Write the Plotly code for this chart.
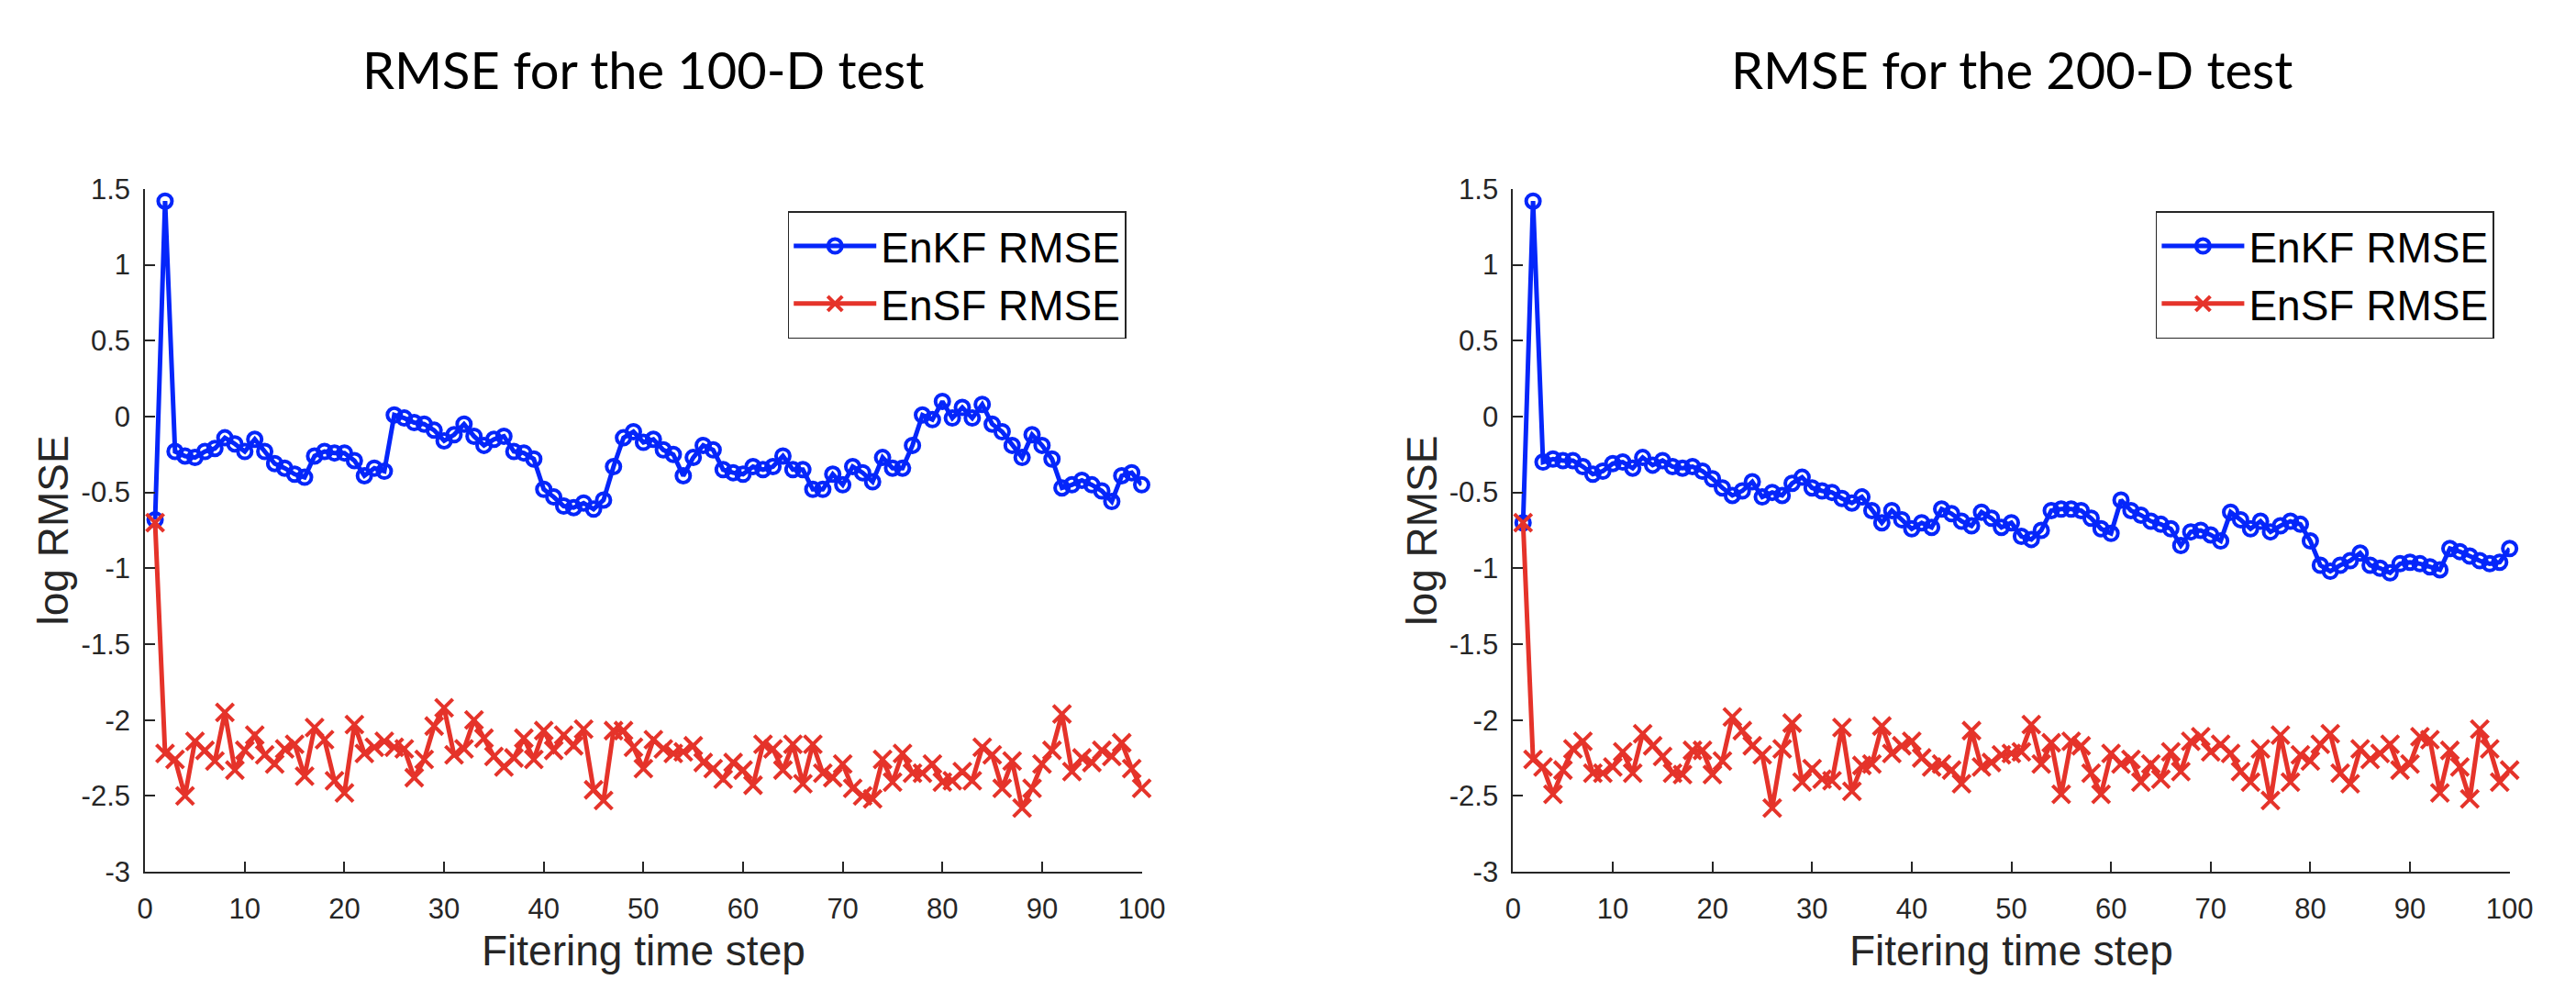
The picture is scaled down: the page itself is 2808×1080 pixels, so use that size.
import plotly.graph_objects as go

# time steps
steps = list(range(1, 101))

# log RMSE, 100-D test
enkf_100 = [-0.68, 1.42, -0.23, -0.26, -0.27, -0.23, -0.21, -0.14, -0.18, -0.23,
            -0.15, -0.23, -0.31, -0.34, -0.38, -0.40, -0.26, -0.23, -0.24, -0.24,
            -0.29, -0.39, -0.34, -0.36, 0.01, -0.01, -0.04, -0.05, -0.09, -0.16,
            -0.12, -0.05, -0.13, -0.19, -0.15, -0.13, -0.23, -0.24, -0.28, -0.48,
            -0.53, -0.59, -0.60, -0.57, -0.61, -0.55, -0.33, -0.14, -0.10, -0.17,
            -0.15, -0.22, -0.25, -0.39, -0.27, -0.19, -0.22, -0.35, -0.37, -0.38,
            -0.33, -0.35, -0.33, -0.26, -0.35, -0.35, -0.48, -0.48, -0.38, -0.45,
            -0.33, -0.37, -0.43, -0.27, -0.34, -0.34, -0.19, 0.01, -0.02, 0.10,
            -0.01, 0.06, -0.01, 0.08, -0.05, -0.10, -0.19, -0.27, -0.12, -0.19,
            -0.28, -0.47, -0.45, -0.42, -0.45, -0.49, -0.56, -0.39, -0.37, -0.45]
ensf_100 = [-0.70, -2.22, -2.26, -2.50, -2.14, -2.20, -2.27, -1.95, -2.33, -2.20,
            -2.10, -2.23, -2.29, -2.19, -2.16, -2.37, -2.05, -2.13, -2.40, -2.48,
            -2.03, -2.22, -2.18, -2.14, -2.18, -2.19, -2.38, -2.26, -2.04, -1.92,
            -2.23, -2.19, -2.00, -2.12, -2.24, -2.31, -2.25, -2.12, -2.26, -2.07,
            -2.20, -2.10, -2.17, -2.06, -2.46, -2.53, -2.07, -2.07, -2.18, -2.32,
            -2.13, -2.19, -2.22, -2.21, -2.17, -2.28, -2.32, -2.39, -2.28, -2.33,
            -2.43, -2.16, -2.19, -2.33, -2.16, -2.42, -2.16, -2.35, -2.38, -2.29,
            -2.45, -2.50, -2.52, -2.26, -2.41, -2.22, -2.35, -2.35, -2.29, -2.41,
            -2.40, -2.34, -2.40, -2.18, -2.23, -2.45, -2.27, -2.58, -2.45, -2.29,
            -2.20, -1.96, -2.34, -2.25, -2.28, -2.20, -2.24, -2.15, -2.32, -2.45]

# log RMSE, 200-D test
enkf_200 = [-0.70, 1.42, -0.30, -0.28, -0.29, -0.29, -0.33, -0.38, -0.36, -0.31,
            -0.30, -0.34, -0.27, -0.32, -0.29, -0.33, -0.34, -0.33, -0.36, -0.41,
            -0.47, -0.52, -0.49, -0.43, -0.53, -0.50, -0.52, -0.44, -0.40, -0.47,
            -0.49, -0.50, -0.54, -0.57, -0.53, -0.62, -0.70, -0.62, -0.68, -0.74,
            -0.70, -0.73, -0.61, -0.64, -0.69, -0.72, -0.63, -0.67, -0.73, -0.70,
            -0.79, -0.81, -0.75, -0.62, -0.61, -0.61, -0.62, -0.67, -0.74, -0.77,
            -0.55, -0.62, -0.65, -0.69, -0.71, -0.74, -0.85, -0.76, -0.75, -0.78,
            -0.82, -0.63, -0.68, -0.74, -0.69, -0.76, -0.72, -0.69, -0.71, -0.82,
            -0.98, -1.02, -0.98, -0.95, -0.90, -0.98, -1.00, -1.03, -0.97, -0.96,
            -0.97, -0.99, -1.01, -0.87, -0.89, -0.92, -0.95, -0.97, -0.96, -0.87]
ensf_200 = [-0.70, -2.26, -2.31, -2.49, -2.33, -2.19, -2.14, -2.35, -2.35, -2.31,
            -2.21, -2.35, -2.09, -2.17, -2.24, -2.35, -2.36, -2.20, -2.20, -2.36,
            -2.27, -1.98, -2.07, -2.17, -2.23, -2.58, -2.19, -2.02, -2.41, -2.32,
            -2.39, -2.40, -2.05, -2.47, -2.30, -2.29, -2.04, -2.22, -2.17, -2.14,
            -2.25, -2.31, -2.29, -2.33, -2.42, -2.07, -2.31, -2.28, -2.23, -2.22,
            -2.21, -2.03, -2.29, -2.15, -2.49, -2.14, -2.17, -2.35, -2.49, -2.22,
            -2.29, -2.26, -2.41, -2.29, -2.39, -2.21, -2.34, -2.14, -2.11, -2.21,
            -2.16, -2.22, -2.34, -2.41, -2.19, -2.53, -2.10, -2.41, -2.23, -2.27,
            -2.16, -2.09, -2.35, -2.42, -2.19, -2.26, -2.22, -2.16, -2.33, -2.29,
            -2.11, -2.13, -2.48, -2.20, -2.31, -2.52, -2.06, -2.19, -2.41, -2.33]

titles = ["RMSE for the 100-D test", "RMSE for the 200-D test"]
y_ticks = [-3, -2.5, -2, -1.5, -1, -0.5, 0, 0.5, 1, 1.5]
y_ticktext = ["-3", "-2.5", "-2", "-1.5", "-1", "-0.5", "0", "0.5", "1", "1.5"]
x_ticks = list(range(0, 101, 10))

BLUE = "#0526FA"
RED = "#E5332A"
AX = "#262626"
FONT = "Liberation Sans, Arial, Helvetica, sans-serif"

W, H = 2808, 1080
x_doms = [[143 / W, 1243 / W], [1653 / W, 2753 / W]]
y_dom = [1 - 956 / H, 1 - 187 / H]

fig = go.Figure()

panels = [(enkf_100, ensf_100), (enkf_200, ensf_200)]
for i, (enkf, ensf) in enumerate(panels):
    xa = "x" if i == 0 else "x2"
    ya = "y" if i == 0 else "y2"
    lg = "legend" if i == 0 else "legend2"
    fig.add_trace(go.Scatter(
        x=steps, y=enkf, mode="lines+markers", name="EnKF RMSE",
        xaxis=xa, yaxis=ya, legend=lg, cliponaxis=False,
        line=dict(color=BLUE, width=5),
        marker=dict(symbol="circle-open", size=15, color=BLUE, line=dict(width=4, color=BLUE))))
    fig.add_trace(go.Scatter(
        x=steps, y=ensf, mode="lines+markers", name="EnSF RMSE",
        xaxis=xa, yaxis=ya, legend=lg, cliponaxis=False,
        line=dict(color=RED, width=5),
        marker=dict(symbol="x-thin-open", size=19, color=RED, line=dict(width=4, color=RED))))

axis_common = dict(showgrid=False, zeroline=False, showline=True, linecolor=AX, linewidth=2,
                   ticks="inside", ticklen=11, tickwidth=2, tickcolor=AX,
                   tickfont=dict(family=FONT, size=31, color=AX))

for i in range(2):
    sx = "" if i == 0 else "2"
    fig.layout["xaxis" + sx] = dict(domain=x_doms[i], range=[0, 100], tickvals=x_ticks,
                                   anchor="y" + sx, ticklabelstandoff=12, **axis_common)
    fig.layout["yaxis" + sx] = dict(domain=y_dom, range=[-3, 1.5], tickvals=y_ticks,
                                   ticktext=y_ticktext, anchor="x" + sx,
                                   ticklabelstandoff=8, **axis_common)

legend_style = dict(font=dict(family=FONT, size=46, color="black"), bgcolor="white",
                    bordercolor=AX, borderwidth=1.5, xanchor="right", yanchor="top",
                    y=1 - 212 / H, tracegroupgap=0, itemwidth=90)
fig.update_layout(legend=dict(x=1226 / W, **legend_style),
                  legend2=dict(x=2736 / W, **legend_style))

annotations = []
for i in range(2):
    cx = (x_doms[i][0] + x_doms[i][1]) / 2
    annotations.append(dict(text=titles[i], x=cx, y=1 - 52 / H, xref="paper", yref="paper",
                            xanchor="center", yanchor="middle", showarrow=False,
                            font=dict(family="Lato, sans-serif", size=56, color="black")))
    annotations.append(dict(text="Fitering time step", x=cx, y=1 - 1045 / H, xref="paper",
                            yref="paper", xanchor="center", yanchor="middle", showarrow=False,
                            font=dict(family=FONT, size=46, color=AX)))
    lx = 42 if i == 0 else 1552
    annotations.append(dict(text="log RMSE", x=lx / W, y=(y_dom[0] + y_dom[1]) / 2,
                            xref="paper", yref="paper", xanchor="center", yanchor="middle",
                            textangle=-90, showarrow=False,
                            font=dict(family=FONT, size=46, color=AX)))

fig.update_layout(width=W, height=H, margin=dict(l=0, r=0, t=0, b=0),
                  plot_bgcolor="white", paper_bgcolor="white",
                  annotations=annotations)

fig.write_html("out.html")
